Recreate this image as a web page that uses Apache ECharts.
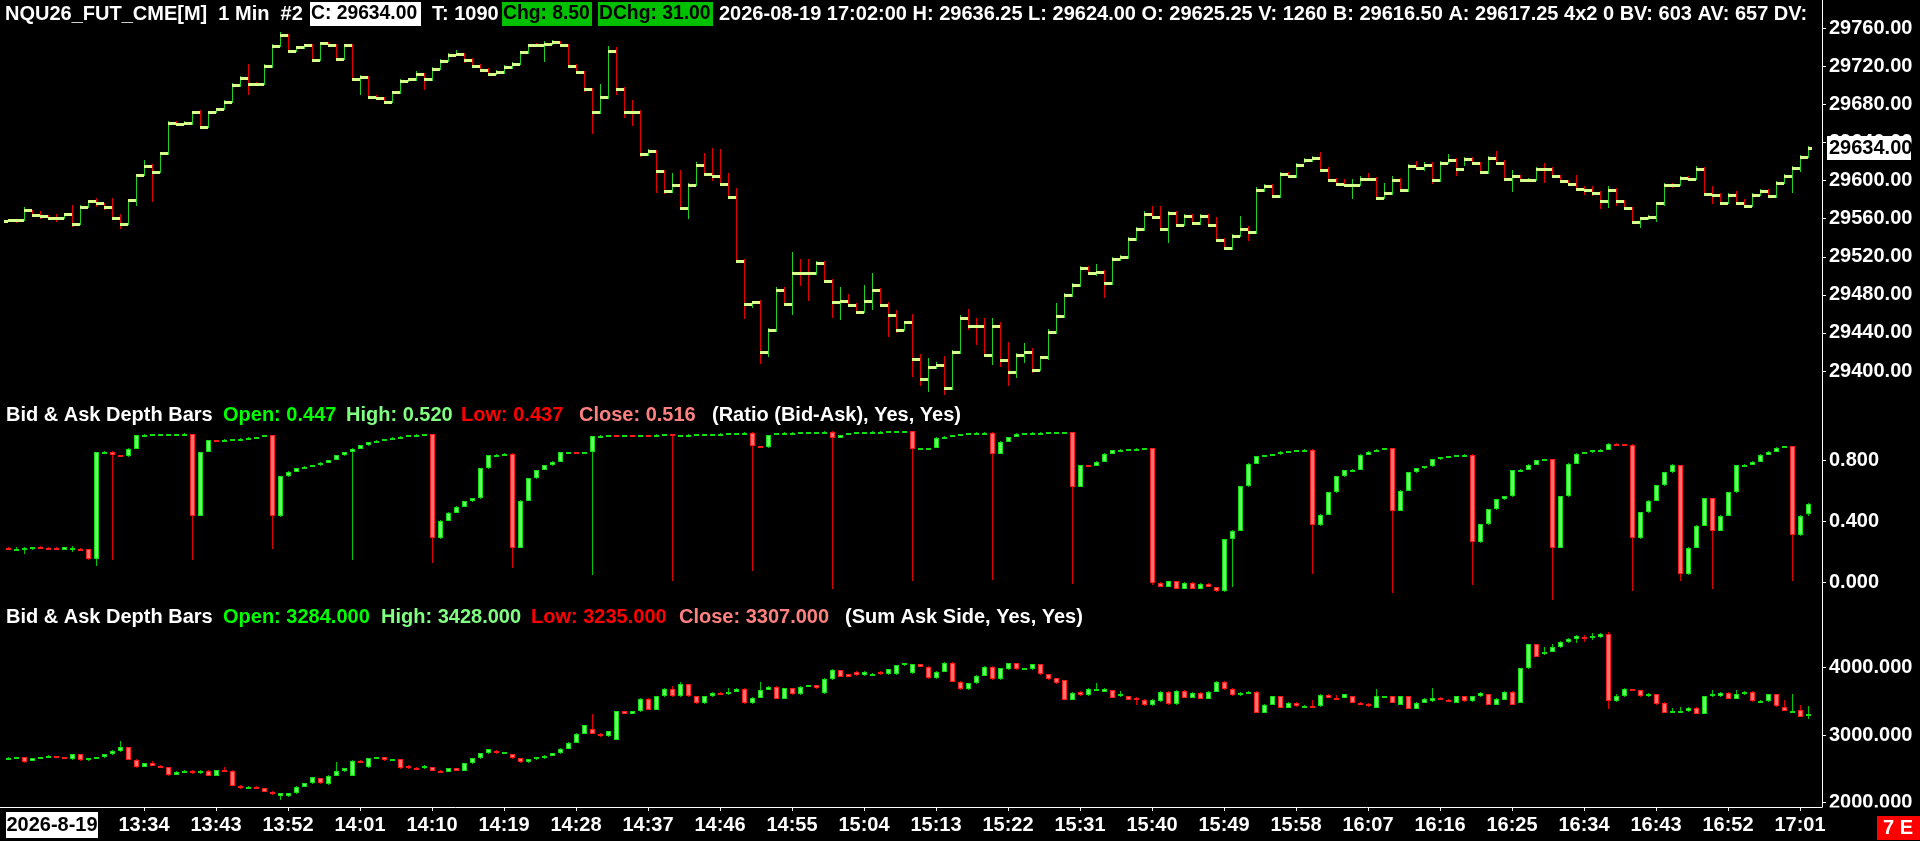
<!DOCTYPE html>
<html><head><meta charset="utf-8">
<script src="https://cdn.jsdelivr.net/npm/echarts/dist/echarts.min.js"></script>
<style>html,body{margin:0;padding:0;background:#000;overflow:hidden}#c{width:1920px;height:841px}</style>
</head><body><div id="c"></div>
<script>
// ---------- DATA ----------
const startTime = '13:17';
const timeTickLabels = ['13:34','13:43','13:52','14:01','14:10','14:19','14:28','14:37','14:46','14:55','15:04','15:13','15:22','15:31','15:40','15:49','15:58','16:07','16:16','16:25','16:34','16:43','16:52','17:01'];
const dateLabel = '2026-8-19';
const priceTicks = [29400,29440,29480,29520,29560,29600,29640,29680,29720,29760];
const ratioTicks = [0,0.4,0.8];
const sumTicks = [2000,3000,4000];

const priceOpen = [29557.25,29558.25,29558.25,29568.75,29563.5,29562.5,29560.5,29560.5,29564.5,29554,
29572.25,29578.25,29576,29572,29560.5,29554,29579.25,29605.5,29615.5,29608.75,
29628.75,29661,29659.25,29661,29672.25,29656.75,29672.25,29675,29682.75,29700,
29707.75,29701,29701,29720.25,29741.5,29753,29736.5,29740,29742.5,29727,
29744.25,29742.5,29728,29742.5,29707.25,29708.75,29688,29686.5,29682.75,29693,
29705,29706.25,29712.5,29706.25,29717.5,29726,29732.25,29733.25,29727,29720.75,
29716.5,29712.5,29714,29719.25,29722.75,29734.75,29742.5,29742.5,29743.5,29745.25,
29742.5,29720.75,29714,29695.75,29672.25,29688,29736.5,29696.75,29672.25,29672.25,
29628,29630.75,29609.75,29589,29595.75,29571.75,29595.75,29616.5,29607.25,29604.5,
29596.75,29582.75,29516,29470.25,29472,29419.75,29443.25,29485,29470.75,29503,
29503,29503,29513.5,29494.25,29472,29473.5,29469.25,29462.5,29473.5,29485,
29469.25,29459,29443.25,29451,29413,29391.25,29404.25,29406.75,29382.25,29419.75,
29455.25,29447.5,29447.5,29417.25,29447.5,29412,29399,29417.25,29419.75,29401.5,
29414.5,29440.5,29457.75,29479.75,29490,29508.25,29503,29504.25,29492.75,29517.75,
29519.75,29538.5,29549,29564.5,29561.5,29549,29566.5,29553.5,29563,29555.25,
29563,29553.5,29538,29529.25,29542.25,29549,29545.75,29590.5,29594.25,29583.75,
29607.25,29604.5,29616.5,29621.75,29624,29611,29601,29596.75,29595.25,29595.75,
29602,29602,29582.25,29586.5,29601,29590,29615,29613.5,29616.5,29601,
29618.75,29621.75,29612.5,29623,29618.75,29608.75,29624,29618.75,29602,29604.5,
29600.5,29601,29612.5,29612.5,29604.5,29599.5,29596.75,29591.5,29590.5,29587.5,
29578.5,29590.5,29578.5,29571.75,29556.25,29560.5,29561.5,29576,29595.75,29595.25,
29603,29602,29612.5,29585.5,29585,29577,29585,29577,29573.5,29585,
29589,29583.75,29598,29604.5,29612.75,29625.25];
const priceHigh = [29559.5,29559.5,29572.75,29569.5,29568,29563.5,29565,29566,29574.5,29574.5,
29579.5,29581.5,29577,29581.5,29565,29580.5,29607,29621.75,29617,29630,
29662.5,29663,29663,29673.5,29674,29673.5,29676.5,29684.5,29703,29709.5,
29722,29703.5,29722,29743.5,29756.5,29754,29741.5,29744,29743.5,29746,
29745.5,29743.5,29744,29744,29710.5,29710,29689.5,29688,29694.5,29706.5,
29708,29715,29713.5,29719,29727.5,29734,29737,29734.5,29728.5,29722,
29718,29716,29721,29724.5,29736.5,29744,29744.5,29747,29747.5,29746.5,
29744,29722,29715.5,29697,29702,29741,29740,29698,29685,29674,
29633,29632,29611,29608,29611.5,29597.5,29619.5,29629,29634,29633,
29608,29592,29518,29474,29475,29445,29488,29488,29524.5,29518,
29518,29516,29516,29497,29488,29481,29471,29490,29503,29487,
29472,29464,29453,29460,29418,29414,29409,29416,29422.5,29459,
29465,29456,29456,29456,29451,29430,29419,29429,29424,29416,
29444,29471.5,29482,29492,29510.5,29510,29512,29506,29520,29521.5,
29540.5,29551,29568,29573,29573,29568.5,29568,29564.5,29564.5,29564.5,
29564.5,29562,29539.5,29544,29563,29552,29593,29596,29596,29609,
29609,29618,29624,29626,29630,29614,29603,29602,29602,29604.5,
29608,29604,29597,29605,29603,29617,29621,29620,29620,29620.5,
29628,29624,29625,29624.5,29620,29626,29631,29622,29611,29606,
29603,29614,29619,29614,29606,29601,29606,29594,29594,29589,
29594,29592,29580,29572.5,29562,29564,29578,29598,29598,29604.5,
29605,29615.5,29614,29594,29586.5,29587,29589,29581,29587,29591.5,
29591,29600,29606.5,29615,29627,29636.25];
const priceLow = [29556,29555.75,29557.5,29562.75,29559.75,29559.5,29557,29559.25,29551,29553,
29570.75,29572.5,29569.5,29559.5,29548.75,29553,29573,29604.5,29577.25,29607.5,
29627,29657.5,29658,29658.25,29654,29655.5,29670.5,29674,29681.5,29698.5,
29690,29699,29700,29718.75,29740,29735,29735.5,29738.75,29725,29726,
29741,29726.25,29727,29705.5,29690,29686.5,29685,29681,29681.5,29691.5,
29703.5,29705,29695.5,29705,29716,29724.5,29731,29724,29718,29715,
29711,29711,29712.5,29717.5,29721,29733,29741,29724.5,29742,29741,
29718,29712,29693,29649,29670,29686,29690,29666,29657,29625,
29626,29587,29586,29587.5,29570,29560,29594,29605.5,29600,29594.5,
29581,29514,29455,29466,29407,29415,29441,29469,29459,29489,
29474,29501,29493,29456,29453.5,29467.5,29460.5,29461,29464,29467,
29436,29440,29441.5,29394,29384,29378,29402,29375,29380,29418,
29443,29427,29415.5,29406,29404.5,29384,29393,29408,29398,29399.5,
29412,29438.5,29456,29478,29488,29501,29500,29477,29490,29516,
29518,29536.5,29547,29560,29547,29534,29552,29552,29553.5,29553.5,
29552,29536.5,29527,29527.5,29540.5,29537,29544,29588.5,29582,29582,
29602.5,29602.5,29619,29620,29609,29599,29595,29593.5,29581,29594,
29600,29580.5,29580.5,29585,29588,29588.5,29611.5,29610,29596,29599,
29617,29605,29615.5,29616,29607,29607,29617,29600,29588,29598.5,
29598.5,29600,29597,29602.5,29597.5,29594.5,29589.5,29585,29584,29570,
29571,29573,29569,29554,29550,29559,29557,29573,29592.5,29594,
29600,29600.5,29583.5,29575,29575.5,29575.5,29574.5,29571.5,29572.5,29583.5,
29581.5,29581.5,29596.5,29587,29609,29624];
const priceClose = [29558.25,29558.25,29568.75,29563.5,29562.5,29560.5,29560.5,29564.5,29554,29572.25,
29578.25,29576,29572,29560.5,29554,29579.25,29605.5,29615.5,29608.75,29628.75,
29661,29659.25,29661,29672.25,29656.75,29672.25,29675,29682.75,29700,29707.75,
29701,29701,29720.25,29741.5,29753,29736.5,29740,29742.5,29727,29744.25,
29742.5,29728,29742.5,29707.25,29708.75,29688,29686.5,29682.75,29693,29705,
29706.25,29712.5,29706.25,29717.5,29726,29732.25,29733.25,29727,29720.75,29716.5,
29712.5,29714,29719.25,29722.75,29734.75,29742.5,29742.5,29743.5,29745.25,29742.5,
29720.75,29714,29695.75,29672.25,29688,29736.5,29696.75,29672.25,29672.25,29628,
29630.75,29609.75,29589,29595.75,29571.75,29595.75,29616.5,29607.25,29604.5,29596.75,
29582.75,29516,29470.25,29472,29419.75,29443.25,29485,29470.75,29503,29503,
29503,29513.5,29494.25,29472,29473.5,29469.25,29462.5,29473.5,29485,29469.25,
29459,29443.25,29451,29413,29391.25,29404.25,29406.75,29382.25,29419.75,29455.25,
29447.5,29447.5,29417.25,29447.5,29412,29399,29417.25,29419.75,29401.5,29414.5,
29440.5,29457.75,29479.75,29490,29508.25,29503,29504.25,29492.75,29517.75,29519.75,
29538.5,29549,29564.5,29561.5,29549,29566.5,29553.5,29563,29555.25,29563,
29553.5,29538,29529.25,29542.25,29549,29545.75,29590.5,29594.25,29583.75,29607.25,
29604.5,29616.5,29621.75,29624,29611,29601,29596.75,29595.25,29595.75,29602,
29602,29582.25,29586.5,29601,29590,29615,29613.5,29616.5,29601,29618.75,
29621.75,29612.5,29623,29618.75,29608.75,29624,29618.75,29602,29604.5,29600.5,
29601,29612.5,29612.5,29604.5,29599.5,29596.75,29591.5,29590.5,29587.5,29578.5,
29590.5,29578.5,29571.75,29556.25,29560.5,29561.5,29576,29595.75,29595.25,29603,
29602,29612.5,29585.5,29585,29577,29585,29577,29573.5,29585,29589,
29583.75,29598,29604.5,29612.75,29625.25,29634];

const ratioOpen = [.225,.220,.222,.218,.232,.228,.226,.215,.228,.222,
.218,.153,.852,.853,.832,.825,.872,.960,.965,.967,
.968,.969,.970,.970,.437,.852,.930,.928,.932,.936,
.940,.946,.950,.962,.432,.695,.725,.745,.755,.765,
.782,.800,.830,.850,.872,.895,.915,.925,.935,.945,
.953,.960,.966,.970,.290,.405,.455,.495,.530,.550,
.745,.830,.835,.840,.227,.535,.680,.735,.765,.790,
.850,.852,.847,.850,.955,.958,.960,.958,.962,.960,
.964,.962,.966,.968,.955,.962,.965,.967,.968,.970,
.972,.973,.975,.978,.890,.882,.962,.975,.978,.979,
.980,.981,.982,.984,.945,.962,.975,.980,.982,.984,
.985,.986,.987,.988,.873,.875,.878,.945,.952,.960,
.968,.975,.978,.979,.840,.920,.950,.970,.975,.978,
.979,.980,.980,.981,.624,.766,.763,.790,.840,.865,
.868,.870,.874,.878,0,-.025,.010,-.040,0,-.040,
-.008,-.028,-.055,.285,.340,.630,.775,.825,.830,.836,
.855,.857,.862,.866,.373,.443,.590,.695,.735,.738,
.835,.855,.868,.877,.470,.600,.720,.745,.760,.805,
.818,.824,.830,.833,.265,.380,.480,.545,.565,.735,
.738,.770,.800,.805,.227,.565,.775,.840,.850,.862,
.868,.905,.902,.900,.290,.460,.535,.635,.720,.765,
.056,.227,.370,.550,.340,.437,.590,.765,.768,.790,
.835,.855,.880,.890,.310,.447];
const ratioHigh = [.235,.232,.232,.236,.240,.236,.234,.235,.238,.228,
.222,.855,.856,.856,.835,.875,.962,.967,.969,.970,
.971,.972,.973,.972,.855,.933,.932,.934,.938,.942,
.948,.952,.964,.965,.698,.728,.748,.758,.768,.785,
.803,.833,.853,.875,.898,.918,.928,.938,.948,.956,
.963,.968,.972,.972,.408,.458,.498,.533,.553,.748,
.833,.838,.843,.843,.538,.683,.738,.768,.793,.853,
.855,.855,.853,.958,.961,.963,.963,.964,.965,.966,
.966,.968,.970,.970,.965,.967,.969,.970,.972,.974,
.975,.977,.980,.980,.892,.965,.978,.980,.981,.982,
.983,.984,.986,.986,.965,.978,.982,.984,.986,.987,
.988,.989,.990,.992,.878,.881,.948,.955,.963,.971,
.977,.980,.981,.981,.923,.953,.973,.977,.980,.981,
.982,.982,.983,.983,.769,.769,.793,.843,.868,.871,
.873,.877,.881,.880,.005,.013,.013,.003,.003,-.005,
-.005,-.025,.288,.343,.633,.778,.828,.833,.839,.858,
.860,.865,.869,.869,.446,.593,.698,.738,.741,.838,
.858,.871,.880,.880,.603,.723,.748,.763,.808,.821,
.827,.833,.836,.836,.383,.483,.548,.568,.738,.741,
.773,.803,.808,.808,.568,.778,.843,.853,.865,.871,
.908,.908,.906,.903,.463,.538,.638,.723,.775,.768,
.230,.373,.553,.553,.440,.593,.768,.771,.793,.838,
.858,.883,.893,.893,.440,.520];
const ratioLow = [.212,.205,.186,.215,.226,.224,.222,.212,.200,.210,
.150,.108,.848,.147,.822,.822,.870,.958,.963,.965,
.966,.967,.968,.147,.435,.850,.926,.926,.930,.934,
.938,.944,.948,.218,.430,.692,.722,.742,.752,.762,
.780,.797,.827,.147,.870,.892,.912,.922,.932,.942,
.950,.957,.963,.130,.288,.402,.452,.492,.527,.547,
.742,.828,.833,.098,.225,.532,.677,.732,.762,.787,
.848,.845,.845,.050,.953,.956,.956,.956,.958,.958,
.960,.960,.964,.010,.953,.960,.963,.965,.966,.968,
.970,.971,.973,.075,.880,.880,.960,.973,.976,.977,
.978,.979,.980,-.040,.943,.960,.973,.978,.980,.982,
.983,.984,.985,.010,.871,.873,.876,.943,.950,.958,
.966,.973,.976,.020,.838,.918,.948,.968,.973,.976,
.977,.978,.978,-.010,.621,.760,.760,.787,.837,.862,
.865,.867,.871,-.015,-.030,-.028,-.043,-.043,-.043,-.043,
-.030,-.058,-.058,-.030,.337,.627,.772,.822,.827,.833,
.852,.854,.859,.055,.370,.440,.587,.692,.732,.735,
.832,.852,.865,-.070,.467,.597,.717,.742,.757,.802,
.815,.821,.827,-.015,.262,.377,.477,.542,.562,.732,
.735,.767,.797,-.110,.224,.562,.772,.837,.847,.859,
.865,.900,.898,-.055,.287,.457,.532,.632,.717,.010,
.053,.224,.367,-.040,.337,.434,.587,.762,.765,.787,
.832,.852,.877,.010,.307,.437];
const ratioClose = [.220,.222,.228,.232,.228,.226,.224,.232,.229,.214,
.153,.852,.853,.832,.825,.872,.960,.965,.967,.968,
.969,.970,.970,.437,.852,.930,.928,.932,.936,.940,
.946,.950,.962,.432,.695,.725,.745,.755,.765,.782,
.800,.830,.850,.872,.895,.915,.925,.935,.945,.953,
.960,.966,.970,.290,.405,.455,.495,.530,.550,.745,
.830,.835,.840,.227,.535,.680,.735,.765,.790,.850,
.852,.847,.850,.955,.958,.960,.958,.962,.960,.964,
.962,.966,.968,.955,.962,.965,.967,.968,.970,.972,
.973,.975,.978,.890,.882,.962,.975,.978,.979,.980,
.981,.982,.984,.945,.962,.975,.980,.982,.984,.985,
.986,.987,.988,.873,.875,.878,.945,.952,.960,.968,
.975,.978,.979,.840,.920,.950,.970,.975,.978,.979,
.980,.980,.981,.624,.766,.763,.790,.840,.865,.868,
.870,.874,.878,0,-.025,.010,-.040,0,-.040,-.008,
-.028,-.055,.285,.340,.630,.775,.825,.830,.836,.855,
.857,.862,.866,.373,.443,.590,.695,.735,.738,.835,
.855,.868,.877,.470,.600,.720,.745,.760,.805,.818,
.824,.830,.833,.265,.380,.480,.545,.565,.735,.738,
.770,.800,.805,.227,.565,.775,.840,.850,.862,.868,
.905,.902,.900,.290,.460,.535,.635,.720,.765,.056,
.227,.370,.550,.340,.437,.590,.765,.768,.790,.835,
.855,.880,.890,.310,.437,.516];

const askOpen = [2650,2656,2669,2617,2654,2669,2683,2669,2639,2713,
2625,2654,2669,2713,2764,2822,2637,2527,2581,2544,
2522,2412,2456,2471,2434,2471,2398,2478,2470,2251,
2215,2237,2215,2163,2105,2105,2141,2237,2288,2361,
2273,2398,2471,2398,2617,2522,2654,2669,2625,2639,
2544,2507,2507,2522,2471,2456,2507,2471,2581,2654,
2727,2764,2727,2713,2654,2595,2639,2654,2691,2727,
2800,2888,3020,3093,3020,2983,2932,3349,3313,3349,
3532,3371,3569,3679,3569,3752,3569,3474,3569,3620,
3605,3642,3679,3474,3547,3664,3715,3532,3693,3605,
3715,3737,3620,3825,3957,3898,3935,3884,3898,3935,
3898,3898,4030,3913,4045,4008,3840,3935,4067,3788,
3679,3766,3876,4008,3825,3971,4059,3986,3971,4045,
3898,3840,3810,3518,3642,3591,3679,3642,3664,3569,
3569,3547,3518,3444,3496,3642,3459,3656,3547,3620,
3532,3635,3788,3679,3584,3620,3642,3327,3444,3569,
3400,3474,3422,3430,3422,3591,3547,3547,3569,3474,
3459,3400,3569,3569,3444,3569,3386,3474,3496,3547,
3518,3474,3569,3496,3569,3605,3444,3518,3642,3474,
3986,4337,4191,4227,4300,4374,4425,4447,4447,4447,
4499,3496,3569,3679,3664,3569,3605,3474,3327,3349,
3349,3400,3313,3569,3569,3620,3532,3605,3642,3496,
3496,3605,3418,3359,3365,3284];
const askHigh = [2668,2680,2675,2660,2678,2700,2695,2680,2725,2720,
2662,2680,2720,2775,2910,2830,2645,2590,2610,2560,
2530,2465,2480,2478,2480,2478,2488,2530,2478,2260,
2245,2245,2222,2170,2150,2150,2245,2295,2385,2370,
2410,2600,2515,2625,2625,2665,2680,2675,2650,2645,
2550,2520,2560,2530,2478,2515,2515,2590,2662,2735,
2800,2772,2752,2720,2660,2648,2675,2700,2735,2810,
2900,3030,3155,3310,3030,3065,3360,3360,3358,3545,
3540,3580,3690,3720,3790,3760,3575,3580,3630,3628,
3700,3690,3690,3555,3790,3725,3722,3700,3700,3730,
3745,3745,3835,3970,3965,3905,3942,3942,3910,3942,
3980,4040,4070,4055,4055,4015,3945,4080,4075,3795,
3775,3885,4020,4015,3995,4070,4065,3995,4055,4050,
3905,3848,3818,3630,3650,3690,3770,3690,3672,3650,
3578,3555,3525,3530,3655,3650,3665,3664,3630,3628,
3645,3800,3795,3690,3628,3650,3650,3452,3576,3576,
3482,3482,3440,3520,3600,3600,3590,3612,3576,3482,
3466,3680,3582,3576,3576,3576,3482,3540,3700,3555,
3525,3576,3576,3576,3628,3612,3540,3650,3650,3995,
4350,4345,4300,4340,4390,4435,4478,4480,4510,4510,
4520,3610,3690,3686,3672,3620,3612,3482,3400,3420,
3408,3408,3578,3670,3628,3628,3660,3650,3650,3510,
3612,3612,3517,3606,3443,3428];
const askLow = [2640,2650,2590,2610,2648,2662,2660,2650,2630,2615,
2610,2648,2662,2705,2755,2625,2515,2520,2535,2512,
2400,2405,2448,2425,2428,2390,2392,2470,2240,2200,
2205,2205,2155,2115,2046,2090,2130,2230,2280,2280,
2265,2390,2460,2390,2585,2515,2645,2615,2618,2500,
2495,2490,2500,2465,2448,2450,2462,2465,2575,2648,
2720,2720,2720,2645,2585,2588,2632,2648,2685,2720,
2790,2880,3010,3010,2975,2975,2925,3305,3305,3340,
3362,3362,3560,3560,3560,3560,3465,3465,3560,3598,
3598,3635,3465,3465,3540,3658,3525,3525,3598,3598,
3708,3685,3612,3818,3855,3855,3876,3876,3890,3890,
3890,3890,4020,3905,4000,3830,3830,3928,3780,3670,
3670,3760,3868,3818,3818,3965,3962,3978,3962,3890,
3818,3758,3510,3510,3583,3583,3670,3635,3540,3560,
3510,3450,3435,3435,3488,3450,3450,3540,3540,3525,
3525,3628,3672,3576,3576,3613,3318,3318,3436,3392,
3392,3414,3414,3414,3414,3540,3532,3540,3466,3436,
3414,3392,3560,3466,3436,3378,3378,3466,3488,3510,
3488,3466,3488,3488,3560,3436,3436,3510,3436,3466,
3978,4146,4183,4220,4292,4366,4360,4380,4400,4440,
3386,3488,3560,3656,3560,3560,3450,3318,3318,3320,
3341,3305,3305,3560,3560,3525,3525,3598,3488,3470,
3488,3414,3350,3352,3265,3235];
const askClose = [2656,2669,2600,2654,2669,2683,2669,2655,2713,2625,
2654,2669,2713,2764,2822,2637,2527,2581,2544,2522,
2412,2456,2471,2434,2471,2398,2478,2470,2251,2215,
2237,2215,2163,2127,2141,2141,2237,2288,2376,2288,
2398,2471,2507,2617,2595,2654,2669,2625,2639,2507,
2507,2500,2544,2471,2456,2507,2471,2581,2654,2727,
2786,2727,2742,2654,2595,2639,2669,2691,2727,2800,
2888,3020,3144,3020,2983,3056,3349,3313,3349,3532,
3371,3569,3679,3569,3752,3569,3474,3569,3620,3605,
3642,3679,3474,3547,3664,3715,3532,3693,3605,3715,
3737,3693,3825,3957,3862,3862,3884,3935,3898,3898,
3971,4030,4059,4045,4008,3840,3935,4067,3788,3679,
3766,3876,4008,3825,3986,4059,3971,3986,4045,3898,
3825,3766,3518,3620,3591,3679,3679,3679,3547,3605,
3518,3518,3444,3518,3642,3459,3656,3547,3620,3532,
3635,3788,3679,3584,3620,3642,3327,3444,3569,3400,
3474,3422,3430,3422,3591,3547,3540,3605,3474,3444,
3422,3569,3575,3474,3569,3386,3474,3532,3547,3518,
3496,3569,3496,3569,3620,3444,3532,3642,3444,3986,
4337,4154,4227,4300,4374,4425,4469,4440,4469,4499,
3496,3569,3679,3664,3569,3605,3459,3327,3349,3360,
3400,3313,3569,3605,3620,3532,3605,3642,3496,3500,
3605,3422,3359,3359,3270,3307];

// ---------- STYLE ----------
const FONT = '"Liberation Sans", Arial, Helvetica, sans-serif';
const F20 = 'bold 20px ' + FONT;
const F19 = 'bold 19.3px ' + FONT;
const TICK = '#d6ff8c', P_UP = '#20d020', P_DN = '#e00000';
const UP_FILL = '#66ff66', UP_EDGE = '#10e010', UP_WICK = '#00c800';
const DN_FILL = '#ff7474', DN_EDGE = '#ff1a1a', DN_WICK = '#e00000';

function toMin(s){ const p = s.split(':').map(Number); return p[0]*60 + p[1]; }
const t0 = toMin(startTime);
const tickIdx = timeTickLabels.map(s => toMin(s) - t0);
function idxLabel(v){ const m = t0 + Math.round(v); return Math.floor(m/60) + ':' + String(m%60).padStart(2,'0'); }

function rows(o,h,l,c){ return c.map((v,i)=>[i,o[i],h[i],l[i],v]); }

function renderOHLC(params, api){
  const i = api.value(0), o = api.value(1), h = api.value(2), l = api.value(3), c = api.value(4);
  const ph = api.coord([i,h]), pl = api.coord([i,l]), po = api.coord([i,o]), pc = api.coord([i,c]);
  const x = Math.round(ph[0]);
  const col = c > o ? P_UP : P_DN;
  const yt = Math.round(ph[1]), yb = Math.round(pl[1]);
  return {type:'group', children:[
    {type:'rect', shape:{x:x, y:yt, width:1, height:Math.max(1,yb-yt)}, style:{fill:col}},
    {type:'rect', shape:{x:x-4, y:Math.round(po[1])-1, width:4, height:3}, style:{fill:TICK}},
    {type:'rect', shape:{x:x, y:Math.round(pc[1])-1, width:4, height:3}, style:{fill:TICK}}
  ]};
}
function renderCandle(params, api){
  const i = api.value(0), o = api.value(1), h = api.value(2), l = api.value(3), c = api.value(4);
  const ph = api.coord([i,h]), pl = api.coord([i,l]), po = api.coord([i,o]), pc = api.coord([i,c]);
  const x = Math.round(ph[0]);
  const up = c >= o;
  const yt = Math.round(ph[1]), yb = Math.round(pl[1]);
  const bt = Math.round(Math.min(po[1],pc[1])), bb = Math.round(Math.max(po[1],pc[1]));
  const bh = Math.max(2, bb-bt);
  const ch = [
    {type:'rect', shape:{x:x, y:yt, width:1, height:Math.max(1,yb-yt)}, style:{fill: up?UP_WICK:DN_WICK}},
    {type:'rect', shape:{x:x-2, y:bt, width:5, height:bh}, style:{fill: up?UP_EDGE:DN_EDGE}}
  ];
  if (bh > 2) ch.push({type:'rect', shape:{x:x-1, y:bt+1, width:3, height:bh-2}, style:{fill: up?UP_FILL:DN_FILL}});
  return {type:'group', children: ch};
}

const xBase = {type:'value', min:-1, max:226.75, splitLine:{show:false}};
function yAx(grid, min, max, ticks, dec){
  return {gridIndex:grid, type:'value', position:'right', min:min, max:max, scale:true,
    axisLine:{show:true, onZero:false, lineStyle:{color:'#fff', width:1}},
    axisTick:{show:true, length:4, customValues:ticks, lineStyle:{color:'#fff'}},
    axisLabel:{show:true, customValues:ticks, formatter:v=>Number(v).toFixed(dec), color:'#fff', fontFamily:FONT, fontWeight:'bold', fontSize:20, margin:7},
    splitLine:{show:false}};
}

const chart = echarts.init(document.getElementById('c'), null, {renderer:'canvas'});
chart.setOption({
  backgroundColor:'#000', animation:false,
  grid:[{left:0,right:98,top:0,height:405},{left:0,right:98,top:405,height:200},{left:0,right:98,top:605,height:202}],
  xAxis:[
    Object.assign({gridIndex:0, show:false}, xBase),
    Object.assign({gridIndex:1, show:false}, xBase),
    Object.assign({gridIndex:2,
      axisLine:{show:true, onZero:false, lineStyle:{color:'#fff', width:1}},
      axisTick:{show:true, length:4, customValues:tickIdx, lineStyle:{color:'#fff'}},
      axisLabel:{show:true, customValues:tickIdx, formatter:v=>idxLabel(v), color:'#fff', fontFamily:FONT, fontWeight:'bold', fontSize:20, margin:8}
    }, xBase)
  ],
  yAxis:[
    yAx(0, 29364.28, 29789.73, priceTicks, 2),
    yAx(1, -0.1454, 1.1586, ratioTicks, 3),
    yAx(2, 1936.5, 4920.2, sumTicks, 3)
  ],
  series:[
    {type:'custom', xAxisIndex:0, yAxisIndex:0, renderItem:renderOHLC, encode:{x:0, y:[1,2,3,4]}, data:rows(priceOpen,priceHigh,priceLow,priceClose)},
    {type:'custom', xAxisIndex:1, yAxisIndex:1, renderItem:renderCandle, encode:{x:0, y:[1,2,3,4]}, data:rows(ratioOpen,ratioHigh,ratioLow,ratioClose)},
    {type:'custom', xAxisIndex:2, yAxisIndex:2, renderItem:renderCandle, encode:{x:0, y:[1,2,3,4]}, data:rows(askOpen,askHigh,askLow,askClose)}
  ]
});

function txt(x, y, text, fill, align, font){
  return {type:'text', x:x, y:y, z:100, silent:true, style:{text:text, fill:fill, font:font||F20, verticalAlign:'middle', align:align||'left'}};
}
function box(x, y, w, h, fill, z){ return {type:'rect', z:z||99, silent:true, shape:{x:x,y:y,width:w,height:h}, style:{fill:fill}}; }

const last = priceClose.length - 1;
const cy = chart.convertToPixel({yAxisIndex:0}, priceClose[last]);
const g = [
  // header
  txt(5, 14, 'NQU26_FUT_CME[M]  1 Min  #2', '#fff'),
  box(310, 2, 111, 24, '#fff'),
  txt(311, 14, 'C: ' + priceClose[last].toFixed(2), '#000', 'left', F19),
  txt(432, 14, 'T: 1090', '#fff'),
  box(502, 2, 90, 24, '#00c000'),
  txt(503, 14, 'Chg: 8.50', '#000', 'left', F19),
  box(598, 2, 115, 24, '#00c000'),
  txt(599, 14, 'DChg: 31.00', '#000', 'left', F19),
  txt(719, 14, '2026-08-19 17:02:00 H: ' + priceHigh[last].toFixed(2) + ' L: ' + priceLow[last].toFixed(2) + ' O: ' + priceOpen[last].toFixed(2) + ' V: 1260 B: 29616.50 A: 29617.25 4x2 0 BV: 603 AV: 657 DV:', '#fff'),
  // ratio pane title
  txt(6, 415, 'Bid & Ask Depth Bars', '#fff'),
  txt(223, 415, 'Open: ' + ratioOpen[last].toFixed(3), '#00ff00'),
  txt(346, 415, 'High: ' + ratioHigh[last].toFixed(3), '#80ff80'),
  txt(461, 415, 'Low: ' + ratioLow[last].toFixed(3), '#ff0000'),
  txt(579, 415, 'Close: ' + ratioClose[last].toFixed(3), '#ff8080'),
  txt(712, 415, '(Ratio (Bid-Ask), Yes, Yes)', '#fff'),
  // ask pane title
  txt(6, 617, 'Bid & Ask Depth Bars', '#fff'),
  txt(223, 617, 'Open: ' + askOpen[last].toFixed(3), '#00ff00'),
  txt(381, 617, 'High: ' + askHigh[last].toFixed(3), '#80ff80'),
  txt(531, 617, 'Low: ' + askLow[last].toFixed(3), '#ff0000'),
  txt(679, 617, 'Close: ' + askClose[last].toFixed(3), '#ff8080'),
  txt(845, 617, '(Sum Ask Side, Yes, Yes)', '#fff'),
  // bottom decorations
  box(1823, 807.5, 97, 8, '#000', 90),
  box(6, 812, 92, 26, '#fff'),
  txt(52, 825, dateLabel, '#000', 'center'),
  box(1877, 816, 43, 24, '#ff0000'),
  txt(1898, 828, '7 E', '#fff', 'center'),
  // last price marker on the price axis
  box(1827, Math.round(cy) - 12, 84, 24, '#fff'),
  txt(1829, Math.round(cy), priceClose[last].toFixed(2), '#000')
];
chart.setOption({graphic: g});
</script>
</body></html>
